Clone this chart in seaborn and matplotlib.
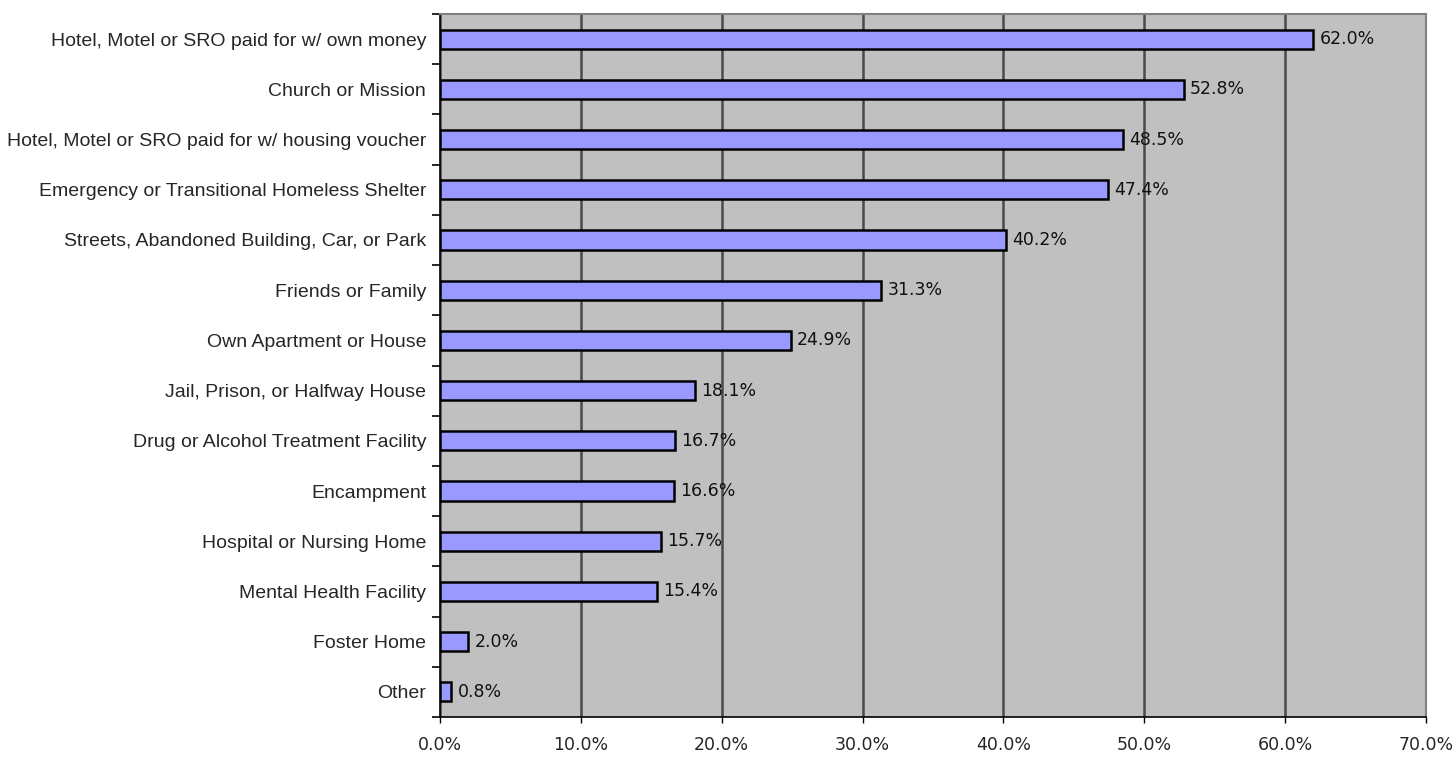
import pandas as pd
import matplotlib
matplotlib.use('Agg')
import matplotlib.pyplot as plt
import seaborn as sns
from matplotlib.ticker import PercentFormatter

# Data
places = [
    'Hotel, Motel or SRO paid for w/ own money',
    'Church or Mission',
    'Hotel, Motel or SRO paid for w/ housing voucher',
    'Emergency or Transitional Homeless Shelter',
    'Streets, Abandoned Building, Car, or Park',
    'Friends or Family',
    'Own Apartment or House',
    'Jail, Prison, or Halfway House',
    'Drug or Alcohol Treatment Facility',
    'Encampment',
    'Hospital or Nursing Home',
    'Mental Health Facility',
    'Foster Home',
    'Other',
]
percent = [62.0, 52.8, 48.5, 47.4, 40.2, 31.3, 24.9, 18.1, 16.7, 16.6, 15.7, 15.4, 2.0, 0.8]
x_ticks = [0, 10, 20, 30, 40, 50, 60, 70]

df = pd.DataFrame({'Place': places, 'Percent': percent})

sns.set_style('white')
plt.rcParams['font.family'] = ['DejaVu Sans']

fig = plt.figure(figsize=(14.56, 7.58), dpi=100)
ax = fig.add_axes([0.3022, 0.0541, 0.6772, 0.9274])
ax.set_facecolor('#C0C0C0')

sns.barplot(data=df, x='Percent', y='Place', orient='h', color='#9999FF',
            saturation=1, width=0.38, edgecolor='#000000', linewidth=1.8, ax=ax,
            zorder=3)

# value labels
for i, v in enumerate(percent):
    ax.text(v + 0.45, i, f'{v:.1f}%', va='center', ha='left', fontsize=12.5,
            color='#111111', zorder=4)

ax.set_xlim(0, 70)
ax.set_ylim(len(places) - 0.5, -0.5)
ax.set_xticks(x_ticks)
ax.xaxis.set_major_formatter(PercentFormatter(decimals=1))
ax.grid(axis='x', color='#4a4a4a', linewidth=1.8, zorder=1)
ax.set_axisbelow(True)

# y ticks sit at category boundaries, labels at category centres
ax.set_yticks(range(len(places)))
ax.set_yticklabels(places, fontsize=14, family=['Liberation Sans', 'DejaVu Sans'])
ax.tick_params(axis='y', length=0, pad=10)
ax.set_yticks([i - 0.5 for i in range(len(places) + 1)], minor=True)
ax.tick_params(axis='y', which='minor', length=6, width=1.2, color='black', direction='out', left=True)
ax.tick_params(axis='x', length=4, width=1, color='black', direction='out', bottom=True,
               labelsize=12.5, pad=10)

ax.set_xlabel('')
ax.set_ylabel('')

for side in ['left', 'bottom']:
    ax.spines[side].set_color('black')
    ax.spines[side].set_linewidth(1.2)
for side in ['top', 'right']:
    ax.spines[side].set_color('#808080')
    ax.spines[side].set_linewidth(1.5)

fig.savefig('out.png', dpi=100)
